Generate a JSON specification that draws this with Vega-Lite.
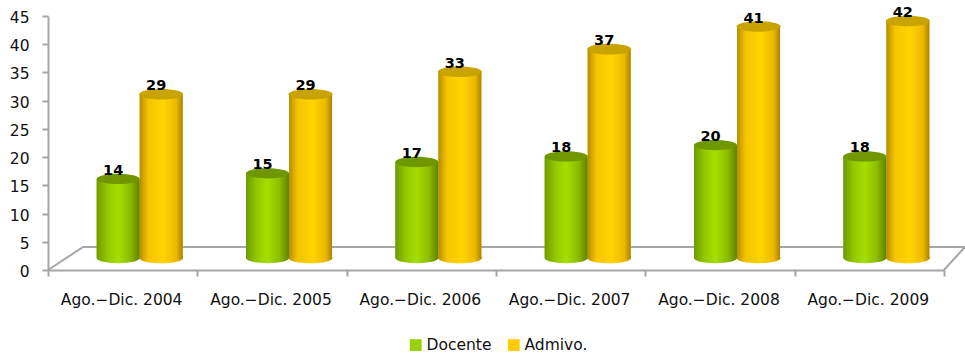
{"$schema":"https://vega.github.io/schema/vega-lite/v6.json","width":896,"height":254,"autosize":{"type":"none"},"padding":{"left":48,"top":16,"right":21,"bottom":86},"background":"white","config":{"view":{"stroke":null}},"datasets":{"rows":[{"periodo":"Ago.−Dic. 2004","serie":"Docente","valor":14},{"periodo":"Ago.−Dic. 2004","serie":"Admivo.","valor":29},{"periodo":"Ago.−Dic. 2005","serie":"Docente","valor":15},{"periodo":"Ago.−Dic. 2005","serie":"Admivo.","valor":29},{"periodo":"Ago.−Dic. 2006","serie":"Docente","valor":17},{"periodo":"Ago.−Dic. 2006","serie":"Admivo.","valor":33},{"periodo":"Ago.−Dic. 2007","serie":"Docente","valor":18},{"periodo":"Ago.−Dic. 2007","serie":"Admivo.","valor":37},{"periodo":"Ago.−Dic. 2008","serie":"Docente","valor":20},{"periodo":"Ago.−Dic. 2008","serie":"Admivo.","valor":41},{"periodo":"Ago.−Dic. 2009","serie":"Docente","valor":18},{"periodo":"Ago.−Dic. 2009","serie":"Admivo.","valor":42}],"floor":[{"lado":"a","p":0,"nivel":0,"o":1},{"lado":"a","p":0.235,"nivel":4.08,"o":2},{"lado":"a","p":6.14,"nivel":4.08,"o":3},{"lado":"b","p":6,"nivel":0,"o":1},{"lado":"b","p":6.14,"nivel":4.08,"o":2}]},"layer":[{"data":{"name":"floor"},"mark":{"type":"line","color":"#a6a6a6","strokeWidth":2,"clip":false},"encoding":{"x":{"field":"p","type":"quantitative","scale":{"domain":[0,6]},"axis":null},"y":{"field":"nivel","type":"quantitative","scale":{"domain":[0,45],"nice":false},"axis":{"title":null,"values":[0,5,10,15,20,25,30,35,40,45],"grid":false,"domainColor":"#a6a6a6","domainWidth":2,"tickColor":"#a6a6a6","tickWidth":2,"tickSize":6,"labelFont":"DejaVu Sans","labelFontSize":15.5,"labelColor":"#111111","labelPadding":13,"labelOffset":1.5}},"detail":{"field":"lado"},"order":{"field":"o","type":"quantitative"}}},{"data":{"name":"rows"},"encoding":{"x":{"field":"periodo","type":"nominal","scale":{"paddingInner":0,"paddingOuter":0},"axis":{"title":null,"labelAngle":0,"labelFont":"DejaVu Sans","labelFontSize":15.5,"labelColor":"#111111","labelPadding":16,"labelOffset":-1.5,"domainColor":"#a6a6a6","domainWidth":2,"tickColor":"#a6a6a6","tickWidth":2,"tickSize":6,"tickBand":"extent"}},"xOffset":{"field":"serie","type":"nominal","scale":{"domain":["Docente","Admivo."],"paddingInner":0,"paddingOuter":0.736,"align":0.769}},"y":{"field":"valor","type":"quantitative","stack":null,"scale":{"domain":[-2.13,42.87],"nice":false},"axis":null}},"layer":[{"mark":{"type":"bar"},"encoding":{"color":{"field":"serie","type":"nominal","scale":{"domain":["Docente","Admivo."],"range":["#9bd000","#ffcc00"]},"legend":{"orient":"none","legendX":360,"legendY":321,"direction":"horizontal","title":null,"symbolType":"square","symbolSize":140,"symbolStrokeWidth":0,"labelFont":"DejaVu Sans","labelFontSize":15.5,"labelColor":"#111111","columnPadding":14,"labelOffset":3}}}},{"transform":[{"filter":"datum.serie==='Docente'"}],"layer":[{"mark":{"type":"point","filled":true,"opacity":1,"size":1849,"shape":"M-1,0A1,0.24 0 1,1 1,0A1,0.24 0 1,1 -1,0Z","fill":{"gradient":"linear","x1":0,"x2":1,"y1":0,"y2":0,"stops":[{"offset":0,"color":"#6f9a00"},{"offset":0.25,"color":"#94c800"},{"offset":0.5,"color":"#a6de00"},{"offset":0.78,"color":"#8cbc00"},{"offset":1,"color":"#5f8000"}]}},"encoding":{"y":{"datum":0,"type":"quantitative"}}},{"mark":{"type":"bar","fill":{"gradient":"linear","x1":0,"x2":1,"y1":0,"y2":0,"stops":[{"offset":0,"color":"#6f9a00"},{"offset":0.25,"color":"#94c800"},{"offset":0.5,"color":"#a6de00"},{"offset":0.78,"color":"#8cbc00"},{"offset":1,"color":"#5f8000"}]}}},{"mark":{"type":"point","filled":true,"opacity":1,"size":1849,"shape":"M-1,0A1,0.24 0 1,1 1,0A1,0.24 0 1,1 -1,0Z","fill":"#6f9800"}}]},{"transform":[{"filter":"datum.serie==='Admivo.'"}],"layer":[{"mark":{"type":"point","filled":true,"opacity":1,"size":1936,"shape":"M-1,0A1,0.24 0 1,1 1,0A1,0.24 0 1,1 -1,0Z","fill":{"gradient":"linear","x1":0,"x2":1,"y1":0,"y2":0,"stops":[{"offset":0,"color":"#b58e00"},{"offset":0.2,"color":"#f5c400"},{"offset":0.55,"color":"#ffd500"},{"offset":0.85,"color":"#ecb800"},{"offset":1,"color":"#a88400"}]}},"encoding":{"y":{"datum":0,"type":"quantitative"}}},{"mark":{"type":"bar","fill":{"gradient":"linear","x1":0,"x2":1,"y1":0,"y2":0,"stops":[{"offset":0,"color":"#b58e00"},{"offset":0.2,"color":"#f5c400"},{"offset":0.55,"color":"#ffd500"},{"offset":0.85,"color":"#ecb800"},{"offset":1,"color":"#a88400"}]}}},{"mark":{"type":"point","filled":true,"opacity":1,"size":1936,"shape":"M-1,0A1,0.24 0 1,1 1,0A1,0.24 0 1,1 -1,0Z","fill":"#c9a400"}}]},{"mark":{"type":"text","font":"DejaVu Sans","fontWeight":"bold","fontSize":14.5,"color":"#000000","dx":-5,"dy":-4,"baseline":"alphabetic"},"encoding":{"text":{"field":"valor","type":"quantitative"}}}]}],"resolve":{"scale":{"x":"independent","y":"independent"},"axis":{"x":"independent","y":"independent"}}}
